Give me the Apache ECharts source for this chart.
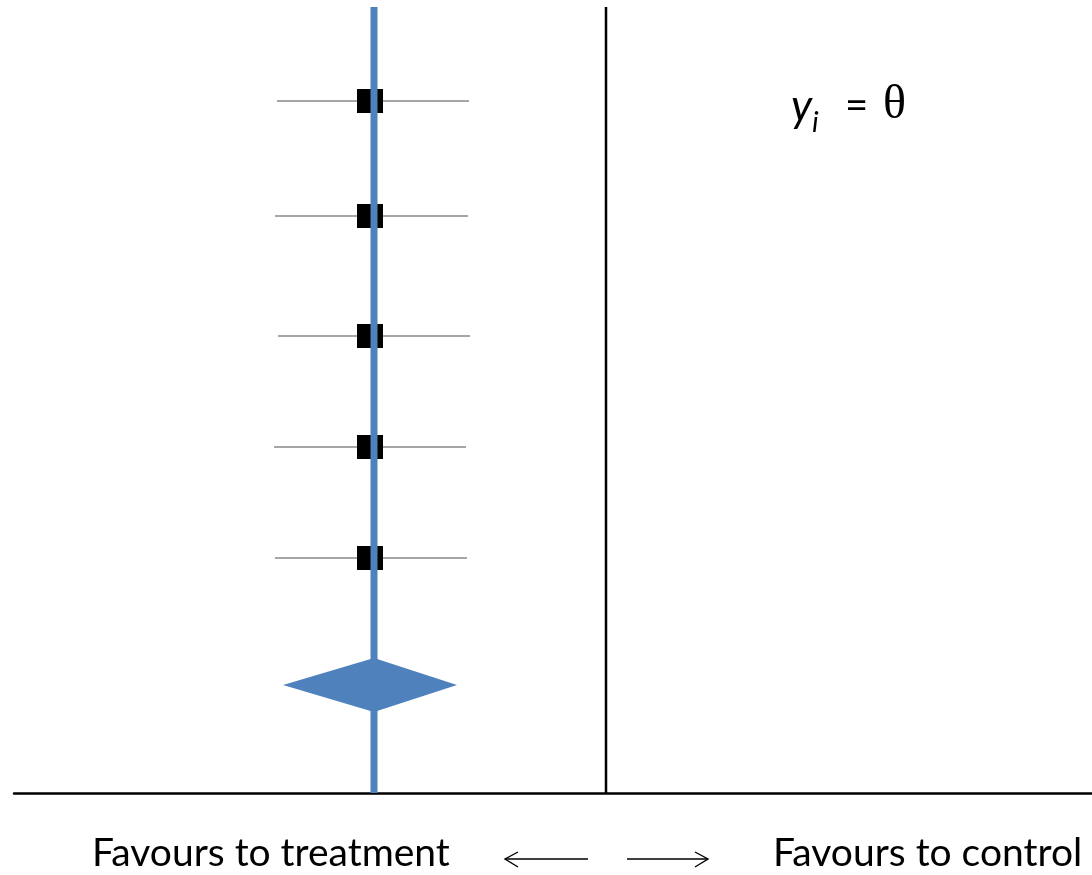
<!DOCTYPE html>
<html><head><meta charset="utf-8">
<script src="https://cdn.jsdelivr.net/npm/echarts@6/dist/echarts.min.js"></script>
<style>html,body{margin:0;padding:0;background:#fff}#c{width:1092px;height:875px}</style>
</head><body><div id="c"></div>
<script>
// Study rows (vertical position units), estimates and CI bounds
const studyY   = [6.92, 5.77, 4.57, 3.46, 2.35];
const estimate = [-2.36, -2.36, -2.36, -2.36, -2.36];
const ciLow    = [-3.29, -3.31, -3.28, -3.32, -3.31];
const ciHigh   = [-1.37, -1.38, -1.36, -1.40, -1.39];
// Pooled effect (diamond)
const pooledY = 1.08;
const pooledEst = -2.32;
const pooledLow = -3.23;
const pooledHigh = -1.49;
const nullValue = 0;
const xMin = -5.92, xMax = 4.86, yMin = 0, yMax = 7.86;
// Axis captions
const leftCaption = 'Favours to treatment';
const rightCaption = 'Favours to control';

const chart = echarts.init(document.getElementById('c'), null, {renderer:'canvas'});
const ciData = studyY.map((y,i)=>[ciLow[i], ciHigh[i], y]);
const ptData = studyY.map((y,i)=>[estimate[i], y]);
const arrowStyle = {stroke:'#000', lineWidth:1.4, fill:null};

chart.setOption({
  animation:false,
  backgroundColor:'#ffffff',
  grid:{left:14, right:0, top:7, bottom:82},
  xAxis:{type:'value', min:xMin, max:xMax, axisLine:{show:true, onZero:false, lineStyle:{color:'#000', width:2.5}},
    axisTick:{show:false}, axisLabel:{show:false}, splitLine:{show:false}},
  yAxis:{type:'value', min:yMin, max:yMax, show:false, splitLine:{show:false}},
  series:[
    {type:'custom', data:ciData, z:2,
     renderItem:(p,api)=>{
       const a=api.coord([api.value(0),api.value(2)]), b=api.coord([api.value(1),api.value(2)]);
       return {type:'line', shape:{x1:a[0],y1:a[1],x2:b[0],y2:b[1]}, style:{stroke:'#a6a6a6', lineWidth:2}};
     }},
    {type:'scatter', data:ptData, symbol:'rect', symbolSize:[26,24], itemStyle:{color:'#000', opacity:1}, z:3},
    {type:'line', data:[[nullValue,yMin],[nullValue,yMax]], symbol:'none', lineStyle:{color:'#000', width:2.5}, z:2},
    {type:'line', data:[[pooledEst,yMin],[pooledEst,yMax]], symbol:'none', lineStyle:{color:'#4f81bd', width:7}, z:4},
    {type:'custom', data:[[pooledLow,pooledEst,pooledHigh,pooledY]], z:5,
     renderItem:(p,api)=>{
       const y=api.value(3);
       const l=api.coord([api.value(0),y]), t=api.coord([api.value(1),y+0.27]),
             r=api.coord([api.value(2),y]), b=api.coord([api.value(1),y-0.27]);
       return {type:'polygon', shape:{points:[l,t,r,b]}, style:{fill:'#4f81bd'}};
     }}
  ],
  graphic:[
    {type:'text', left:92, top:834, style:{text:leftCaption, font:'39px Lato', fill:'#000'}},
    {type:'text', left:773, top:834, style:{text:rightCaption, font:'39px Lato', fill:'#000'}},
    {type:'line', shape:{x1:505, y1:859, x2:588, y2:859}, style:arrowStyle},
    {type:'polyline', shape:{points:[[518,852],[505,859],[518,867]]}, style:arrowStyle},
    {type:'line', shape:{x1:627, y1:859, x2:708, y2:859}, style:arrowStyle},
    {type:'polyline', shape:{points:[[695,852],[708,859],[695,867]]}, style:arrowStyle},
    {type:'text', left:791, top:85, style:{text:'y', font:'italic 44px Lato', fill:'#000'}},
    {type:'text', left:812, top:108, style:{text:'i', font:'italic 29px Lato', fill:'#000'}},
    {type:'text', left:845, top:86, style:{text:'=', font:'40px Lato', fill:'#000'}},
    {type:'text', left:883, top:81, style:{text:'θ', font:'48px "Liberation Serif"', fill:'#000'}}
  ]
});
</script></body></html>
